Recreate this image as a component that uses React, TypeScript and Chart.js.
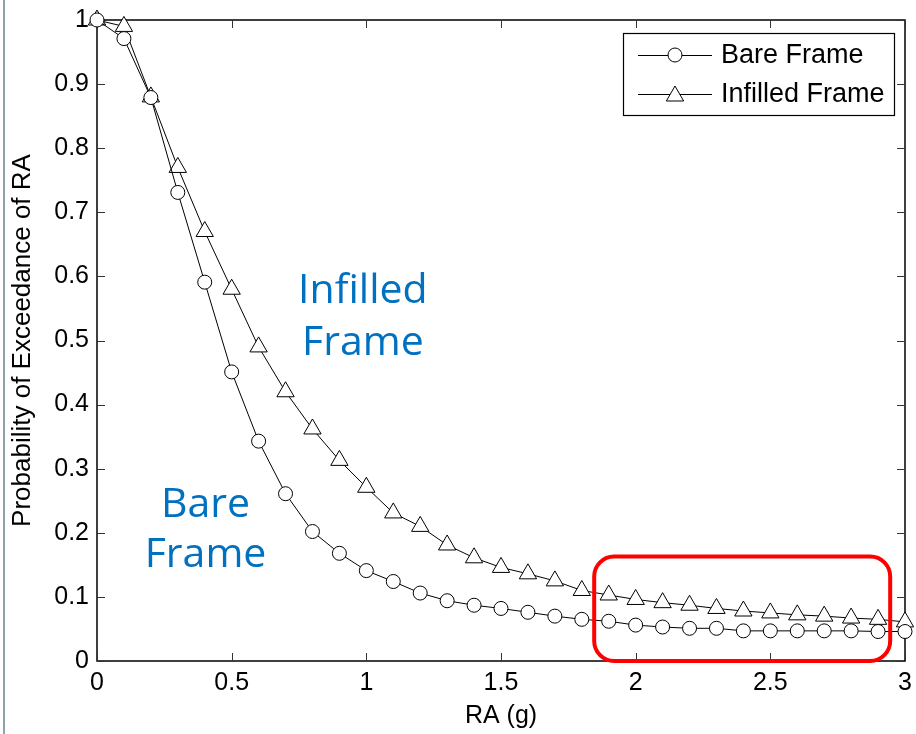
import React, { useEffect, useRef } from 'react';
import { Chart, registerables } from 'chart.js';

Chart.register(...registerables);

// ---- data ----
const raValues = [0, 0.1, 0.2, 0.3, 0.4, 0.5, 0.6, 0.7, 0.8, 0.9, 1.0, 1.1, 1.2, 1.3, 1.4, 1.5, 1.6, 1.7, 1.8, 1.9, 2.0, 2.1, 2.2, 2.3, 2.4, 2.5, 2.6, 2.7, 2.8, 2.9, 3.0];
const bareFrame = [1.0, 0.971, 0.879, 0.731, 0.591, 0.451, 0.343, 0.261, 0.202, 0.168, 0.141, 0.124, 0.106, 0.094, 0.087, 0.082, 0.076, 0.070, 0.065, 0.062, 0.056, 0.053, 0.051, 0.051, 0.047, 0.047, 0.047, 0.047, 0.047, 0.046, 0.046];
const infilledFrame = [1.0, 0.99, 0.88, 0.77, 0.67, 0.58, 0.49, 0.42, 0.362, 0.313, 0.271, 0.231, 0.21, 0.181, 0.161, 0.146, 0.136, 0.125, 0.11, 0.103, 0.096, 0.091, 0.087, 0.082, 0.078, 0.075, 0.072, 0.07, 0.067, 0.065, 0.061];
const seriesNames = ['Bare Frame', 'Infilled Frame'];
const xLimits = [0, 3];
const yLimits = [0, 1];
const xStep = 0.5;
const yStep = 0.1;
const xTitle = 'RA (g)';
const yTitle = 'Probability of Exceedance of RA';
// callouts: [line1, line2, x, baseline y of line 1, baseline y of line 2] in data units
const calloutInfilled = ['Infilled', 'Frame', 0.987, 0.5585, 0.4774];
const calloutBare = ['Bare', 'Frame', 0.403, 0.2246, 0.1466];
// highlight box in data units: x1, x2, yTop, yBottom
const highlight = [1.846, 2.945, 0.163, 0.0];

const FONT = '"Liberation Sans", Arial, sans-serif';
const CALLOUT_FONT = '"Open Sans", "Noto Sans", sans-serif';

const fmtTick = (v: number | string) => String(Math.round(Number(v) * 10) / 10);

function drawMarker(ctx: CanvasRenderingContext2D, style: string, x: number, y: number, r: number) {
  ctx.beginPath();
  if (style === 'circle') {
    ctx.arc(x, y, r, 0, Math.PI * 2);
  } else {
    let rad = 0;
    ctx.moveTo(x + Math.sin(rad) * r, y - Math.cos(rad) * r);
    rad += (2 * Math.PI) / 3;
    ctx.lineTo(x + Math.sin(rad) * r, y - Math.cos(rad) * r);
    rad += (2 * Math.PI) / 3;
    ctx.lineTo(x + Math.sin(rad) * r, y - Math.cos(rad) * r);
    ctx.closePath();
  }
  ctx.fillStyle = '#fff';
  ctx.fill();
  ctx.strokeStyle = '#000';
  ctx.lineWidth = 1;
  ctx.stroke();
}

const framePlugin = {
  id: 'matlabFrame',
  beforeDatasetsDraw(chart: any) {
    const { ctx, chartArea, scales } = chart;
    const { left, right, top, bottom } = chartArea;
    const xs = scales.x;
    const ys = scales.y;
    ctx.save();
    ctx.strokeStyle = '#000';
    ctx.lineWidth = 1.5;
    ctx.strokeRect(left, top, right - left, bottom - top);
    ctx.strokeStyle = '#333';
    ctx.lineWidth = 1;
    ctx.beginPath();
    xs.ticks.forEach((t: any) => {
      const px = Math.round(xs.getPixelForValue(t.value)) + 0.5;
      ctx.moveTo(px, bottom);
      ctx.lineTo(px, bottom - 8);
      ctx.moveTo(px, top);
      ctx.lineTo(px, top + 8);
    });
    ys.ticks.forEach((t: any) => {
      const py = Math.round(ys.getPixelForValue(t.value)) + 0.5;
      ctx.moveTo(left, py);
      ctx.lineTo(left + 8, py);
      ctx.moveTo(right, py);
      ctx.lineTo(right - 8, py);
    });
    ctx.stroke();
    ctx.restore();
  },
  afterDatasetsDraw(chart: any) {
    const { ctx, chartArea, scales } = chart;
    const xs = scales.x;
    const ys = scales.y;
    ctx.save();

    // callout texts
    ctx.fillStyle = '#0070C0';
    ctx.font = `41px ${CALLOUT_FONT}`;
    ctx.textAlign = 'center';
    ctx.textBaseline = 'alphabetic';
    [calloutInfilled, calloutBare].forEach((c: any[]) => {
      const cx = xs.getPixelForValue(c[2]);
      ctx.fillText(c[0], cx, ys.getPixelForValue(c[3]));
      ctx.fillText(c[1], cx, ys.getPixelForValue(c[4]));
    });

    // legend
    const boxRight = chartArea.right - 11;
    const boxTop = chartArea.top + 13;
    const boxW = 271;
    const boxH = 82;
    const boxLeft = boxRight - boxW;
    ctx.fillStyle = '#fff';
    ctx.fillRect(boxLeft, boxTop, boxW, boxH);
    ctx.strokeStyle = '#000';
    ctx.lineWidth = 1.2;
    ctx.strokeRect(boxLeft + 0.5, boxTop + 0.5, boxW, boxH);
    const rows = [boxTop + 22, boxTop + 61];
    const styles = ['circle', 'triangle'];
    const radii = [7, 10];
    rows.forEach((ry, i) => {
      ctx.beginPath();
      ctx.strokeStyle = '#000';
      ctx.lineWidth = 1;
      ctx.moveTo(boxLeft + 15, ry + 0.5);
      ctx.lineTo(boxLeft + 89, ry + 0.5);
      ctx.stroke();
      drawMarker(ctx, styles[i], boxLeft + 52, ry + (i === 1 ? 2 : 0), radii[i]);
      ctx.fillStyle = '#000';
      ctx.font = `27px ${FONT}`;
      ctx.textAlign = 'left';
      ctx.textBaseline = 'middle';
      ctx.fillText(seriesNames[i], boxLeft + 98, ry + 1);
    });

    // highlight rounded rectangle
    const x1 = xs.getPixelForValue(highlight[0]);
    const x2 = xs.getPixelForValue(highlight[1]);
    const y1 = ys.getPixelForValue(highlight[2]);
    const y2 = ys.getPixelForValue(highlight[3]);
    ctx.beginPath();
    ctx.strokeStyle = '#FF0000';
    ctx.lineWidth = 4;
    (ctx as any).roundRect(x1, y1, x2 - x1, y2 - y1, 20);
    ctx.stroke();

    ctx.restore();
  },
};

export default function App() {
  const canvasRef = useRef<HTMLCanvasElement | null>(null);

  useEffect(() => {
    const canvas = canvasRef.current;
    if (!canvas) return;
    const chart = new Chart(canvas, {
      type: 'line',
      data: {
        datasets: [
          {
            label: seriesNames[0],
            data: raValues.map((x, i) => ({ x, y: bareFrame[i] })),
            borderColor: '#000',
            borderWidth: 1,
            pointStyle: 'circle',
            pointRadius: 7,
            pointBackgroundColor: '#fff',
            pointBorderColor: '#000',
            pointBorderWidth: 1,
            tension: 0,
            clip: false as any,
          },
          {
            label: seriesNames[1],
            data: raValues.map((x, i) => ({ x, y: infilledFrame[i] })),
            borderColor: '#000',
            borderWidth: 1,
            pointStyle: 'triangle',
            pointRadius: 10,
            pointBackgroundColor: '#fff',
            pointBorderColor: '#000',
            pointBorderWidth: 1,
            tension: 0,
            clip: false as any,
          },
        ],
      },
      options: {
        animation: false,
        responsive: false,
        maintainAspectRatio: false,
        devicePixelRatio: 1,
        layout: { padding: { top: 20, right: 8, left: 0, bottom: 0 } },
        plugins: {
          legend: { display: false },
          tooltip: { enabled: false },
        },
        scales: {
          x: {
            type: 'linear',
            min: xLimits[0],
            max: xLimits[1],
            ticks: {
              stepSize: xStep,
              color: '#000',
              font: { family: FONT, size: 25 },
              padding: 7,
              maxRotation: 0,
              autoSkip: false,
              callback: fmtTick,
            },
            grid: { display: true, drawOnChartArea: false, drawTicks: false },
            border: { display: false },
            title: {
              display: true,
              text: xTitle,
              color: '#000',
              font: { family: FONT, size: 25 },
              padding: { top: 0, bottom: 3 },
            },
            afterFit: (scale: any) => {
              scale.height = 73;
              scale.paddingLeft = 0;
              scale.paddingRight = 0;
            },
          },
          y: {
            type: 'linear',
            min: yLimits[0],
            max: yLimits[1],
            ticks: {
              stepSize: yStep,
              color: '#000',
              font: { family: FONT, size: 25 },
              padding: 8,
              autoSkip: false,
              callback: fmtTick,
            },
            grid: { display: true, drawOnChartArea: false, drawTicks: false },
            border: { display: false },
            title: {
              display: true,
              text: yTitle,
              color: '#000',
              font: { family: FONT, size: 26 },
              padding: { top: 7, bottom: 0 },
            },
            afterFit: (scale: any) => {
              scale.width = 97;
              scale.paddingTop = 0;
              scale.paddingBottom = 0;
            },
          },
        },
      } as any,
      plugins: [framePlugin],
    });
    return () => chart.destroy();
  }, []);

  return (
    <div style={{ position: 'absolute', left: 0, top: 0, width: 916, height: 734, background: '#fff' }}>
      <div style={{ position: 'absolute', left: 3, top: 0, width: 2, height: 734, background: '#8fa3a8' }} />
      <canvas ref={canvasRef} width={916} height={734} style={{ position: 'absolute', left: 0, top: 0 }} />
    </div>
  );
}
